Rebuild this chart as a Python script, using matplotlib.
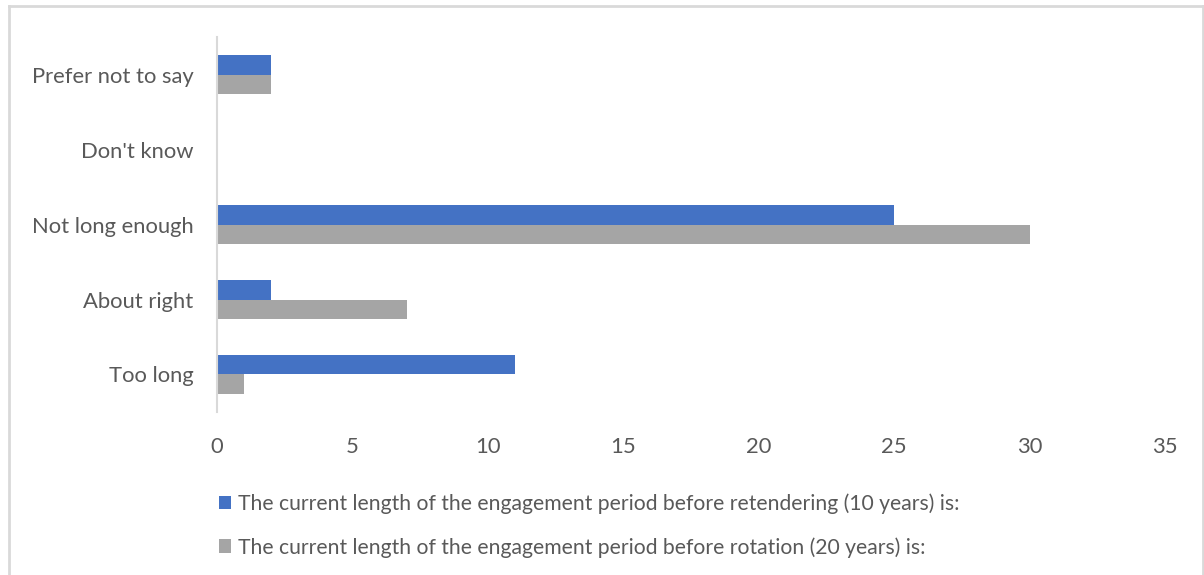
import numpy as np
import matplotlib
matplotlib.use('Agg')
import matplotlib.pyplot as plt
from matplotlib.lines import Line2D

plt.rcParams['font.family'] = ['Lato', 'DejaVu Sans']

categories = ['Too long', 'About right', 'Not long enough', "Don't know", 'Prefer not to say']
retendering = [11, 2, 25, 0, 2]
rotation = [1, 7, 30, 0, 2]
labels = ['The current length of the engagement period before retendering (10 years) is:',
          'The current length of the engagement period before rotation (20 years) is:']
xticks = [0, 5, 10, 15, 20, 25, 30, 35]

blue = '#4472c4'
grey = '#a5a5a5'
txt = '#595959'

fig = plt.figure(figsize=(12.04, 5.75), dpi=100)
ax = fig.add_axes([0.1802, 0.2835, 0.7874, 0.652])

y = np.arange(len(categories))
h = 0.262
ax.barh(y + h / 2, retendering, height=h, color=blue, label=labels[0])
ax.barh(y - h / 2, rotation, height=h, color=grey, label=labels[1])

ax.set_xlim(0, 35)
ax.set_ylim(-0.5, 4.5)
ax.set_xticks(xticks)
ax.set_yticks(y)
ax.set_yticklabels(categories)
for s in ['top', 'right', 'bottom']:
    ax.spines[s].set_visible(False)
ax.spines['left'].set_color('#d9d9d9')
ax.spines['left'].set_linewidth(1.5)
ax.tick_params(axis='both', length=0, labelsize=15.8, labelcolor=txt)
ax.tick_params(axis='y', pad=17)
ax.tick_params(axis='x', pad=18)

fig.legend(loc='upper left', bbox_to_anchor=(0.1745, 0.157), frameon=False,
           fontsize=15.2, labelcolor=txt, handlelength=0.6, handleheight=0.6,
           handletextpad=0.3, labelspacing=1.1, borderaxespad=0)

# chart border
bc = '#d9d9d9'
fig.add_artist(Line2D([0.0075, 0.0075], [0, 0.9896], color=bc, lw=2))
fig.add_artist(Line2D([0.0075, 0.999], [0.9896, 0.9896], color=bc, lw=2))
fig.add_artist(Line2D([0.999, 0.999], [0, 0.9896], color=bc, lw=2))

fig.savefig('out.png', dpi=100)
